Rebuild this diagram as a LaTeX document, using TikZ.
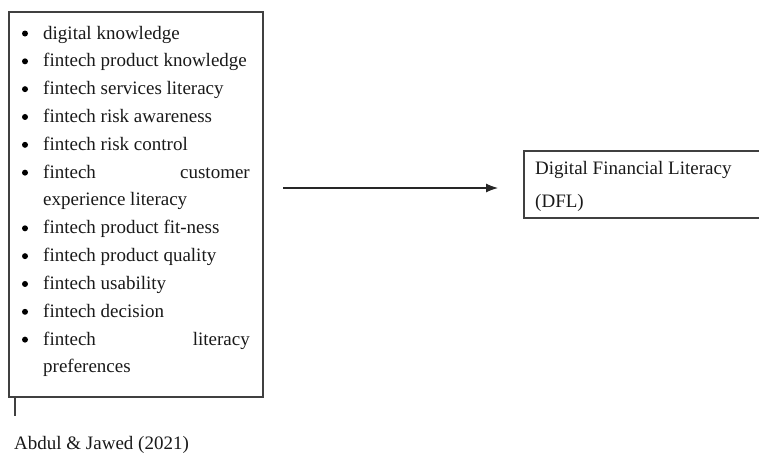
\documentclass[tikz,border=0pt]{standalone}
\usepackage{fontspec}
\setmainfont{Liberation Serif}
\usetikzlibrary{arrows.meta}
\begin{document}
\begin{tikzpicture}[x=1pt,y=-1pt,
  txt/.style={anchor=base west, inner sep=0pt, font=\fontsize{19}{23}\selectfont, text=black!90},
  txtr/.style={txt, anchor=base east},
  boxline/.style={draw=black!75, line width=1.1pt},
  bul/.style={circle, fill=black, inner sep=0pt, minimum size=6pt}]
\useasboundingbox (0,0) rectangle (759,453);
\draw[boxline] (9,12) rectangle (263,397);
% list lines
\foreach \i/\t in {0/digital knowledge,1/fintech product knowledge,2/fintech services literacy,3/fintech risk awareness,4/fintech risk control,7/fintech product fit-ness,8/fintech product quality,9/fintech usability,10/fintech decision}{
  \node[txt] (t\i) at (43,{39+27.83*\i}) {\t};
  \node[bul] (b\i) at (25,{39+27.83*\i-5.5}) {};
}
\node[txt] (t5) at (43,{39+27.83*5}) {fintech};
\node[txtr] (t5r) at (250,{39+27.83*5}) {customer};
\node[bul] (b5) at (25,{39+27.83*5-5.5}) {};
\node[txt] (t6) at (43,{39+27.83*6}) {experience literacy};
\node[txt] (t11) at (43,{39+27.83*11}) {fintech};
\node[txtr] (t11r) at (250,{39+27.83*11}) {literacy};
\node[bul] (b11) at (25,{39+27.83*11-5.5}) {};
\node[txt] (t12) at (43,{39+27.83*12}) {preferences};
% tick below box
\coordinate (k1) at (15,397);
\coordinate (k2) at (15,416);
\draw[boxline] (k1) -- (k2);
\node[txt] (src) at (14,449) {Abdul \& Jawed (2021)};
% right box
\draw[boxline] (524,151) rectangle (775,218);
\node[txt] (d1) at (535,174) {Digital Financial Literacy};
\node[txt] (d2) at (535,207) {(DFL)};
\coordinate (a1) at (283,188);
\coordinate (a2) at (498,188);
\draw[black!85, line width=1.1pt, -{Latex[length=12pt,width=9pt]}] (a1) -- (a2);
\end{tikzpicture}
\end{document}
